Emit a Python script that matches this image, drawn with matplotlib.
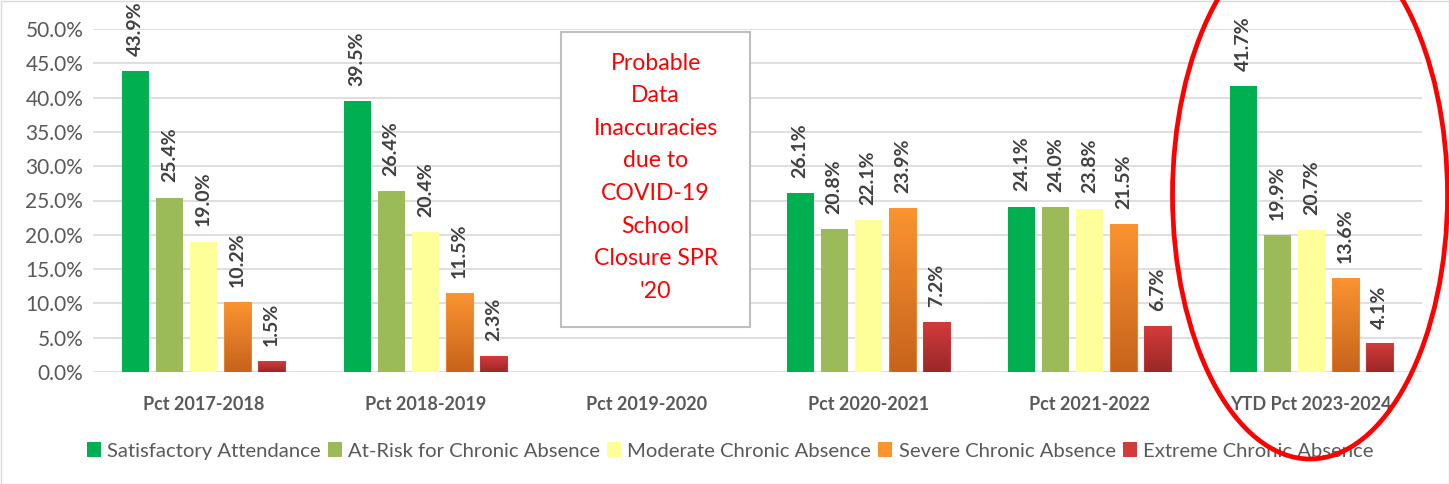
import numpy as np
import matplotlib
matplotlib.use("Agg")
import matplotlib.pyplot as plt
import matplotlib.patches as mpatches
from matplotlib.colors import LinearSegmentedColormap

plt.rcParams['font.family'] = ['Lato', 'DejaVu Sans']

categories = ['Pct 2017-2018', 'Pct 2018-2019', 'Pct 2019-2020',
              'Pct 2020-2021', 'Pct 2021-2022', 'YTD Pct 2023-2024']
series = ['Satisfactory Attendance', 'At-Risk for Chronic Absence',
          'Moderate Chronic Absence', 'Severe Chronic Absence',
          'Extreme Chronic Absence']
satisfactory = [43.9, 39.5, np.nan, 26.1, 24.1, 41.7]
at_risk = [25.4, 26.4, np.nan, 20.8, 24.0, 19.9]
moderate = [19.0, 20.4, np.nan, 22.1, 23.8, 20.7]
severe = [10.2, 11.5, np.nan, 23.9, 21.5, 13.6]
extreme = [1.5, 2.3, np.nan, 7.2, 6.7, 4.1]
yticks = np.arange(0, 55, 5)
note = "Probable\nData\nInaccuracies\ndue to\nCOVID-19\nSchool\nClosure SPR\n'20"

values = [satisfactory, at_risk, moderate, severe, extreme]
# solid colours, gradient ones as (top, bottom)
colors = ['#00B050', '#9BBB59', '#FFFF99', ('#FA9330', '#C7631C'), ('#D33B3B', '#9A2828')]

W, H = 1449, 484
fig = plt.figure(figsize=(W / 100, H / 100), dpi=100)
ax = fig.add_axes([93 / W, 1 - 372 / H, (1422 - 93) / W, (372 - 29) / H])

x = np.arange(len(categories))
step = 0.1535
width = 0.122
offsets = (np.arange(5) - 2) * step

for i, (vals, col) in enumerate(zip(values, colors)):
    xs = x + offsets[i]
    for xi, v in zip(xs, vals):
        if np.isnan(v):
            continue
        if isinstance(col, tuple):
            cmap = LinearSegmentedColormap.from_list('g', [col[1], col[0]])
            grad = np.linspace(1, 0, 50).reshape(-1, 1)
            ax.imshow(grad, cmap=cmap, aspect='auto', zorder=3,
                      extent=(xi - width / 2, xi + width / 2, 0, v))
            ax.add_patch(mpatches.Rectangle((xi - width / 2, 0), width, v,
                                            facecolor='none', edgecolor=col[0],
                                            linewidth=0.8, alpha=0.6, zorder=3))
        else:
            ax.bar(xi, v, width=width, color=col, zorder=3)
        ax.annotate(f"{v:.1f}%", (xi, v), xytext=(0, 11), textcoords='offset points',
                    rotation=90, ha='center', va='bottom', fontsize=14,
                    fontweight='bold', color='#404040', annotation_clip=False)

ax.set_xlim(-0.5, len(categories) - 0.5)
ax.set_ylim(0, 50)

ax.set_yticks(yticks)
ax.set_yticklabels([f"{t:.1f}%" for t in yticks], fontsize=15, color='#595959')
ax.set_xticks(x)
ax.set_xticklabels(categories, fontsize=13, fontweight='bold', color='#595959')
ax.tick_params(axis='both', length=0)
ax.tick_params(axis='x', pad=17)
ax.tick_params(axis='y', pad=7)
ax.grid(axis='y', color='#D9D9D9', linewidth=1.2, zorder=0)
ax.set_axisbelow(True)
for s in ax.spines.values():
    s.set_visible(False)

# note box over the missing year
ax.add_patch(mpatches.Rectangle((1.613, 6.6), 0.853, 43.0, facecolor='white',
                                edgecolor='#BFBFBF', linewidth=1.5, zorder=4))
ax.text(2.04, 28.4, note, ha='center', va='center', color='#FF0000',
        fontsize=16.6, linespacing=1.68, zorder=5)

# legend
handles = []
for name, col in zip(series, colors):
    fc = col if not isinstance(col, tuple) else col[0]
    handles.append(mpatches.Patch(facecolor=fc, label=name))
fig.legend(handles=handles, loc='center', bbox_to_anchor=(730 / W, 1 - 451 / H),
           ncol=5, frameon=False, fontsize=14.6, labelcolor='#595959',
           handlelength=0.7, handleheight=0.7, handletextpad=0.3,
           columnspacing=0.35)

# red ellipse highlight
fig.patches.append(mpatches.Ellipse((1310 / W, 1 - 195 / H), 275 / W, 528 / H,
                                    transform=fig.transFigure, fill=False,
                                    edgecolor='#FF0000', linewidth=3.4, zorder=10))
# chart border
fig.patches.append(mpatches.Rectangle((0.5 / W, 0.5 / H), 1 - 1 / W, 1 - 1 / H,
                                      transform=fig.transFigure, fill=False,
                                      edgecolor='#D9D9D9', linewidth=1))

fig.savefig('out.png', dpi=100)
